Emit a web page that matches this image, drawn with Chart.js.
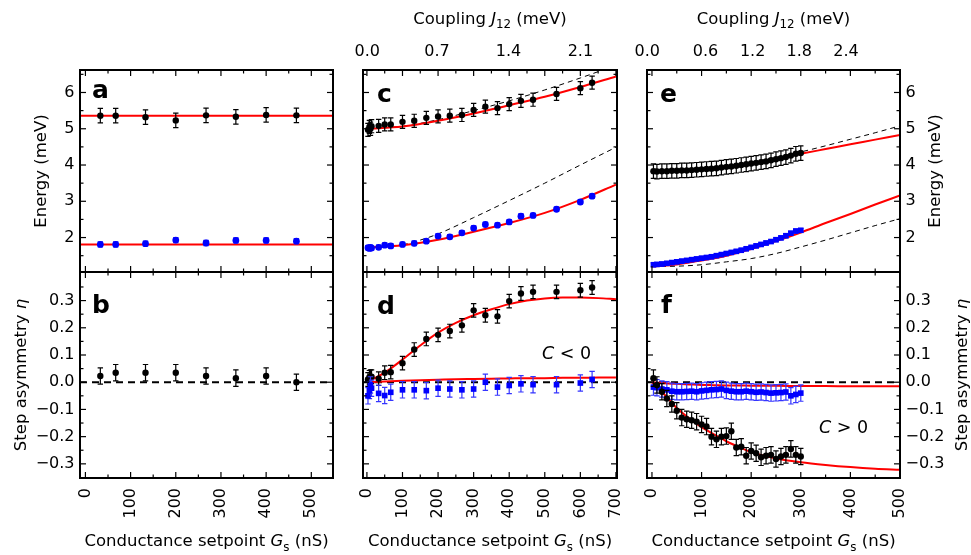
<!DOCTYPE html>
<html><head><meta charset="utf-8">
<script src="https://cdn.jsdelivr.net/npm/chart.js@4.4.1/dist/chart.umd.min.js"></script>
<style>
html,body{margin:0;padding:0;background:#fff;}
#wrap{position:relative;width:971px;height:555px;overflow:hidden;background:#fff;}
#wrap canvas{position:absolute;left:0;top:0;}
</style></head>
<body><div id="wrap">
<canvas id="pa" width="971" height="555"></canvas>
<canvas id="pb" width="971" height="555"></canvas>
<canvas id="pc" width="971" height="555"></canvas>
<canvas id="pd" width="971" height="555"></canvas>
<canvas id="pe" width="971" height="555"></canvas>
<canvas id="pf" width="971" height="555"></canvas>
</div>
<script>
// ================= DATA =================
// axis ranges
const rangeAB = [-12, 548];
const rangeCD = [-11, 703];
const rangeEF = [-10, 500];
const rangeEnergy = [1.05, 6.62];
const rangeEta = [-0.352, 0.405];

// tick values / labels
const tickG_AB = [0, 100, 200, 300, 400, 500];
const minorG_AB = [50, 150, 250, 350, 450];
const tickG_CD = [0, 100, 200, 300, 400, 500, 600, 700];
const minorG_CD = [50, 150, 250, 350, 450, 550, 650];
const tickG_EF = [0, 100, 200, 300, 400, 500];
const minorG_EF = [50, 150, 250, 350, 450];
const tickEnergy = [2, 3, 4, 5, 6];
const minorEnergy = [1.5, 2.5, 3.5, 4.5, 5.5, 6.5];
const tickEta = [-0.3, -0.2, -0.1, 0, 0.1, 0.2, 0.3];
const minorEta = [-0.25, -0.15, -0.05, 0.05, 0.15, 0.25, 0.35];
// coupling J12 labels on top axes, placed at the setpoint where they sit
const couplingLabelsC = ['0.0', '0.7', '1.4', '2.1'];
const couplingAtG_C = [1, 197, 398, 600];
const couplingLabelsE = ['0.0', '0.6', '1.2', '1.8', '2.4'];
const couplingAtG_E = [-9.5, 108, 203, 297, 391];

// panels a, b
const gAB = [33, 67, 133, 200, 267, 333, 400, 467];
const energyHighA = [5.36, 5.36, 5.32, 5.23, 5.37, 5.33, 5.38, 5.37];
const energyLowA = [1.81, 1.81, 1.83, 1.93, 1.85, 1.92, 1.92, 1.90];
const errHighA = 0.2, errLowA = 0.07;
const fitHighA = 5.36, fitLowA = 1.81;
const etaB = [0.023, 0.035, 0.035, 0.035, 0.023, 0.015, 0.023, 0.0];
const errEtaB = 0.03;

// panels c, d
const gCD = [3, 7, 10, 13, 33, 50, 67, 100, 133, 167, 200, 233, 267, 300, 333, 367, 400, 433, 467, 533, 600, 633];
const energyHighC = [4.97, 5.05, 5.00, 5.07, 5.08, 5.12, 5.12, 5.19, 5.22, 5.30, 5.34, 5.36, 5.38, 5.52, 5.61, 5.57, 5.68, 5.77, 5.80, 5.96, 6.12, 6.27];
const energyLowC = [1.72, 1.70, 1.73, 1.71, 1.73, 1.79, 1.77, 1.81, 1.84, 1.90, 2.04, 2.02, 2.13, 2.26, 2.36, 2.34, 2.43, 2.59, 2.61, 2.78, 2.98, 3.14];
const errHighC = 0.18, errLowC = 0.06;
const fitG_C = [0, 100, 200, 300, 400, 500, 600, 700];
const fitHighC = [5.0, 5.06, 5.22, 5.42, 5.65, 5.88, 6.15, 6.44];
const dashHighC = [5.0, 5.07, 5.25, 5.50, 5.77, 6.07, 6.40, 6.75];
const fitLowC = [1.73, 1.79, 1.94, 2.16, 2.40, 2.68, 3.04, 3.46];
const dashG_C = [0, 100, 150, 200, 300, 400, 500, 600, 700];
const dashLowC = [1.72, 1.80, 1.93, 2.10, 2.55, 3.02, 3.50, 4.00, 4.49];
const etaBlackD = [0.010, 0.018, 0.020, 0.020, 0.013, 0.035, 0.037, 0.070, 0.120, 0.159, 0.174, 0.188, 0.209, 0.264, 0.246, 0.242, 0.298, 0.326, 0.332, 0.332, 0.338, 0.348];
const etaBlueD = [-0.050, -0.030, -0.010, -0.022, -0.041, -0.049, -0.037, -0.028, -0.028, -0.031, -0.022, -0.025, -0.028, -0.025, 0.000, -0.018, -0.012, -0.006, -0.009, -0.009, -0.003, 0.010];
const errBlackD = 0.025, errBlueD = 0.03;
const fitG_D = [0, 50, 100, 150, 200, 250, 300, 350, 400, 450, 500, 550, 600, 650, 700];
const fitBlackD = [0, 0.035, 0.083, 0.135, 0.182, 0.218, 0.246, 0.268, 0.287, 0.300, 0.308, 0.311, 0.311, 0.309, 0.305];
const fitBlueD = [0, 0.003, 0.005, 0.007, 0.009, 0.011, 0.012, 0.013, 0.014, 0.015, 0.015, 0.016, 0.016, 0.017, 0.017];

// panels e, f
const gEF = [3, 10, 20, 30, 40, 50, 60, 70, 80, 90, 100, 110, 120, 130, 140, 150, 160, 170, 180, 190, 200, 210, 220, 230, 240, 250, 260, 270, 280, 290, 300];
const energyHighE = [3.83, 3.82, 3.83, 3.83, 3.84, 3.84, 3.85, 3.85, 3.86, 3.87, 3.88, 3.89, 3.90, 3.91, 3.93, 3.95, 3.96, 3.98, 4.00, 4.02, 4.04, 4.06, 4.08, 4.10, 4.13, 4.16, 4.19, 4.22, 4.26, 4.31, 4.33];
const energyLowE = [1.25, 1.26, 1.27, 1.29, 1.31, 1.33, 1.35, 1.37, 1.39, 1.41, 1.43, 1.45, 1.47, 1.50, 1.53, 1.56, 1.59, 1.62, 1.65, 1.69, 1.73, 1.77, 1.81, 1.85, 1.89, 1.94, 1.99, 2.05, 2.12, 2.18, 2.20];
const errHighE = 0.2, errLowE = 0.05;
const fitG_E = [0, 50, 100, 150, 200, 250, 300, 350, 400, 450, 500];
const fitHighE = [3.80, 3.82, 3.87, 3.93, 4.03, 4.17, 4.31, 4.44, 4.57, 4.70, 4.83];
const dashHighE = [3.80, 3.82, 3.88, 3.96, 4.08, 4.21, 4.36, 4.53, 4.71, 4.89, 5.08];
const fitLowE = [1.20, 1.26, 1.37, 1.50, 1.68, 1.90, 2.14, 2.40, 2.65, 2.91, 3.16];
const dashLowE = [1.20, 1.21, 1.25, 1.33, 1.42, 1.56, 1.74, 1.93, 2.13, 2.33, 2.52];
const etaBlackF = [0.015, -0.010, -0.035, -0.060, -0.080, -0.105, -0.130, -0.136, -0.140, -0.145, -0.155, -0.163, -0.200, -0.210, -0.200, -0.198, -0.180, -0.240, -0.237, -0.270, -0.253, -0.261, -0.276, -0.270, -0.267, -0.282, -0.273, -0.267, -0.245, -0.267, -0.273];
const etaBlueF = [-0.018, -0.020, -0.025, -0.028, -0.033, -0.035, -0.035, -0.034, -0.033, -0.035, -0.032, -0.030, -0.028, -0.027, -0.025, -0.030, -0.033, -0.035, -0.035, -0.033, -0.035, -0.037, -0.036, -0.038, -0.040, -0.039, -0.038, -0.036, -0.050, -0.045, -0.040];
const errBlackF = 0.03, errBlueF = 0.03;
const fitG_F = [0, 25, 50, 75, 100, 125, 150, 175, 200, 250, 300, 350, 400, 450, 500];
const fitBlackF = [0, -0.045, -0.095, -0.133, -0.165, -0.192, -0.217, -0.238, -0.257, -0.280, -0.294, -0.304, -0.312, -0.318, -0.322];
const fitBlueF = [0, -0.004, -0.006, -0.008, -0.010, -0.011, -0.012, -0.012, -0.013, -0.013, -0.014, -0.014, -0.015, -0.015, -0.015];

// text
const titleG = [{t: 'Conductance setpoint '}, {t: 'G', i: true}, {t: 's', sub: true}, {t: ' (nS)'}];
const titleJ = [{t: 'Coupling '}, {t: 'J', i: true}, {t: '12', sub: true}, {t: ' (meV)'}];
const titleEnergy = [{t: 'Energy (meV)'}];
const titleEta = [{t: 'Step asymmetry '}, {t: '\u03B7', i: true}];
const noteNeg = [{t: 'C', i: true}, {t: ' < 0'}];
const notePos = [{t: 'C', i: true}, {t: ' > 0'}];

// ================= DRAWING =================
const FONT = '"DejaVu Sans", "Liberation Sans", sans-serif';
Chart.defaults.font.family = FONT;
Chart.defaults.color = '#000';

const pts = (xs, ys) => xs.map((x, i) => ({x, y: ys[i]}));
const flat = (xs, v) => xs.map(x => ({x, y: v}));

const blackPts = (data, err) => ({data, showLine: false, pointRadius: 3.2, pointStyle: 'circle',
  pointBackgroundColor: '#000', pointBorderWidth: 0, yErr: err, errColor: '#000', order: 0});
const bluePts = (data, err, style) => ({data, showLine: false, pointRadius: style === 'rect' ? 4 : 3.4,
  pointStyle: style, pointBackgroundColor: '#0000ff', pointBorderWidth: 0, yErr: err, errColor: '#3535ff', order: 0});
const redLine = data => ({data, showLine: true, borderColor: '#ff0000', borderWidth: 2, pointRadius: 0,
  cubicInterpolationMode: 'monotone', fill: false, order: 1, clip: 0});
const dashLine = data => ({data, showLine: true, borderColor: '#000', borderWidth: 1, borderDash: [5, 4], pointRadius: 0,
  cubicInterpolationMode: 'monotone', fill: false, order: 2, clip: 0});
const zeroLine = range => ({data: flat(range, 0), showLine: true, borderColor: '#000', borderWidth: 2,
  borderDash: [7, 5], pointRadius: 0, fill: false, order: 3, clip: 0});

const errBars = {
  id: 'errBars',
  beforeDatasetDraw(chart, args) {
    const ds = chart.data.datasets[args.index];
    if (ds.yErr == null) return;
    const meta = args.meta, ys = chart.scales[meta.yAxisID], ca = chart.chartArea, ctx = chart.ctx;
    ctx.save();
    ctx.beginPath(); ctx.rect(ca.left, ca.top, ca.right - ca.left, ca.bottom - ca.top); ctx.clip();
    ctx.strokeStyle = ds.errColor; ctx.lineWidth = 1.2;
    meta.data.forEach((el, i) => {
      const v = ds.data[i].y, e = Array.isArray(ds.yErr) ? ds.yErr[i] : ds.yErr;
      const y1 = ys.getPixelForValue(v + e), y2 = ys.getPixelForValue(v - e), x = el.x, c = 2.7;
      ctx.beginPath();
      ctx.moveTo(x, y1); ctx.lineTo(x, y2);
      ctx.moveTo(x - c, y1); ctx.lineTo(x + c, y1);
      ctx.moveTo(x - c, y2); ctx.lineTo(x + c, y2);
      ctx.stroke();
    });
    ctx.restore();
  }
};

function rich(ctx, parts, x, y, rot, size, align) {
  ctx.save();
  ctx.translate(x, y); ctx.rotate(rot || 0);
  const fontOf = p => (p.i ? 'italic ' : '') + (p.sub ? size * 0.72 : size) + 'px ' + FONT;
  let w = 0;
  parts.forEach(p => { ctx.font = fontOf(p); w += ctx.measureText(p.t).width; });
  let cx = align === 'left' ? 0 : -w / 2;
  ctx.textBaseline = 'alphabetic'; ctx.textAlign = 'left'; ctx.fillStyle = '#000';
  parts.forEach(p => { ctx.font = fontOf(p); ctx.fillText(p.t, cx, p.sub ? size * 0.3 : 0); cx += ctx.measureText(p.t).width; });
  ctx.restore();
}

const deco = {
  id: 'deco',
  afterDraw(chart, args, o) {
    const {ctx, chartArea: ca} = chart;
    const xs = chart.scales.x, ys = chart.scales.y;
    ctx.save();
    ctx.strokeStyle = '#000'; ctx.lineWidth = 1.2;
    const seg = (a, b, c, d) => { ctx.beginPath(); ctx.moveTo(a, b); ctx.lineTo(c, d); ctx.stroke(); };
    const xt = (vals, len) => vals.forEach(v => { const p = xs.getPixelForValue(v); seg(p, ca.bottom, p, ca.bottom - len); seg(p, ca.top, p, ca.top + len); });
    const yt = (vals, len) => vals.forEach(v => { const p = ys.getPixelForValue(v); seg(ca.left, p, ca.left + len, p); seg(ca.right, p, ca.right - len, p); });
    xt(o.xMaj, 6); xt(o.xMin, 3.5); yt(o.yMaj, 6); yt(o.yMin, 3.5);
    ctx.lineWidth = 2;
    ctx.strokeRect(ca.left, ca.top, ca.right - ca.left, ca.bottom - ca.top);
    ctx.font = 'bold 25px ' + FONT; ctx.fillStyle = '#000'; ctx.textBaseline = 'alphabetic'; ctx.textAlign = 'left';
    ctx.fillText(o.letter[0], o.letter[1], o.letter[2]);
    (o.titles || []).forEach(t => rich(ctx, t.parts, t.x, t.y, t.rot, t.size || 16.5, t.align));
    ctx.restore();
  }
};

const etaFmt = v => (v < 0 ? '\u2212' : '') + Math.abs(v).toFixed(1);
const intFmt = v => String(v);

function panel(id, o) {
  const tf = {family: FONT, size: 16};
  const scales = {
    x: {type: 'linear', min: o.xr[0], max: o.xr[1], display: !!o.xLabels, position: 'bottom',
      afterBuildTicks: s => { s.ticks = o.xMaj.map(v => ({value: v})); },
      afterFit: s => { if (o.xLabels) s.height = 50; },
      grid: {display: false, drawTicks: false}, border: {display: false},
      ticks: {padding: 10, minRotation: 90, maxRotation: 90, autoSkip: false, font: tf, color: '#000', callback: intFmt}},
    y: {type: 'linear', min: o.yr[0], max: o.yr[1], display: !!o.yPos, position: o.yPos || 'left',
      afterBuildTicks: s => { s.ticks = o.yMaj.map(v => ({value: v})); },
      afterFit: s => { if (o.yPos) s.width = o.yPos === 'right' ? 55 : 80; },
      grid: {display: false, drawTicks: false}, border: {display: false},
      ticks: {padding: 5.5, autoSkip: false, font: tf, color: '#000', callback: o.yFmt}}
  };
  if (o.j) {
    scales.xJ = {type: 'linear', position: 'top', min: o.xr[0], max: o.xr[1], display: true,
      afterBuildTicks: s => { s.ticks = o.j.at.map(v => ({value: v})); },
      afterFit: s => { s.height = 40; },
      grid: {display: false, drawTicks: false}, border: {display: false},
      ticks: {padding: 9, autoSkip: false, minRotation: 0, maxRotation: 0, font: tf, color: '#000',
        callback: (v, i) => o.j.labels[i]}};
  }
  new Chart(document.getElementById(id), {
    type: 'scatter',
    data: {datasets: o.datasets},
    options: {responsive: false, animation: false, events: [], devicePixelRatio: 1,
      layout: {padding: o.pad}, scales,
      plugins: {legend: {display: false}, tooltip: {enabled: false},
        deco: {xMaj: o.xMaj, xMin: o.xMin, yMaj: o.yMaj, yMin: o.yMin, letter: o.letter, titles: o.titles}}},
    plugins: [errBars, deco]
  });
}

// a
panel('pa', {xr: rangeAB, yr: rangeEnergy, yPos: 'left', yFmt: intFmt,
  xMaj: tickG_AB, xMin: minorG_AB, yMaj: tickEnergy, yMin: minorEnergy,
  pad: {left: 0, top: 70, right: 638, bottom: 283}, letter: ['a', 92, 98],
  titles: [{parts: titleEnergy, x: 46, y: 171, rot: -Math.PI / 2}],
  datasets: [redLine(flat(rangeAB, fitHighA)), redLine(flat(rangeAB, fitLowA)),
    blackPts(pts(gAB, energyHighA), errHighA), bluePts(pts(gAB, energyLowA), errLowA, 'circle')]});
// b
panel('pb', {xr: rangeAB, yr: rangeEta, yPos: 'left', yFmt: etaFmt, xLabels: true,
  xMaj: tickG_AB, xMin: minorG_AB, yMaj: tickEta, yMin: minorEta,
  pad: {left: 0, top: 272, right: 638, bottom: 27}, letter: ['b', 92, 313],
  titles: [{parts: titleEta, x: 25.5, y: 375, rot: -Math.PI / 2}, {parts: titleG, x: 206.5, y: 546}],
  datasets: [zeroLine(rangeAB), blackPts(pts(gAB, etaB), errEtaB)]});
// c
panel('pc', {xr: rangeCD, yr: rangeEnergy, xMaj: tickG_CD, xMin: minorG_CD, yMaj: tickEnergy, yMin: minorEnergy,
  j: {at: couplingAtG_C, labels: couplingLabelsC},
  pad: {left: 363, top: 30, right: 354, bottom: 283}, letter: ['c', 377, 102],
  titles: [{parts: titleJ, x: 490, y: 23.5}],
  datasets: [dashLine(pts(fitG_C, dashHighC)), dashLine(pts(dashG_C, dashLowC)),
    redLine(pts(fitG_C, fitHighC)), redLine(pts(fitG_C, fitLowC)),
    blackPts(pts(gCD, energyHighC), errHighC), bluePts(pts(gCD, energyLowC), errLowC, 'circle')]});
// d
panel('pd', {xr: rangeCD, yr: rangeEta, xLabels: true, xMaj: tickG_CD, xMin: minorG_CD, yMaj: tickEta, yMin: minorEta,
  pad: {left: 363, top: 272, right: 354, bottom: 27}, letter: ['d', 377, 313.5],
  titles: [{parts: titleG, x: 490, y: 546}, {parts: noteNeg, x: 542, y: 359, size: 17.5, align: 'left'}],
  datasets: [zeroLine(rangeCD), redLine(pts(fitG_D, fitBlackD)), redLine(pts(fitG_D, fitBlueD)),
    bluePts(pts(gCD, etaBlueD), errBlueD, 'rect'), blackPts(pts(gCD, etaBlackD), errBlackD)]});
// e
panel('pe', {xr: rangeEF, yr: rangeEnergy, yPos: 'right', yFmt: intFmt,
  xMaj: tickG_EF, xMin: minorG_EF, yMaj: tickEnergy, yMin: minorEnergy,
  j: {at: couplingAtG_E, labels: couplingLabelsE},
  pad: {left: 647, top: 30, right: 16, bottom: 283}, letter: ['e', 660, 102],
  titles: [{parts: titleJ, x: 773.5, y: 23.5}, {parts: titleEnergy, x: 940, y: 171, rot: -Math.PI / 2}],
  datasets: [dashLine(pts(fitG_E, dashHighE)), dashLine(pts(fitG_E, dashLowE)),
    redLine(pts(fitG_E, fitHighE)), redLine(pts(fitG_E, fitLowE)),
    blackPts(pts(gEF, energyHighE), errHighE), bluePts(pts(gEF, energyLowE), errLowE, 'rect')]});
// f
panel('pf', {xr: rangeEF, yr: rangeEta, yPos: 'right', yFmt: etaFmt, xLabels: true,
  xMaj: tickG_EF, xMin: minorG_EF, yMaj: tickEta, yMin: minorEta,
  pad: {left: 647, top: 272, right: 16, bottom: 27}, letter: ['f', 661, 312.5],
  titles: [{parts: titleG, x: 773.5, y: 546}, {parts: titleEta, x: 967, y: 375, rot: -Math.PI / 2},
    {parts: notePos, x: 819, y: 433, size: 17.5, align: 'left'}],
  datasets: [zeroLine(rangeEF), redLine(pts(fitG_F, fitBlackF)), redLine(pts(fitG_F, fitBlueF)),
    blackPts(pts(gEF, etaBlackF), errBlackF), bluePts(pts(gEF, etaBlueF), errBlueF, 'rect')]});
</script>
</body></html>
